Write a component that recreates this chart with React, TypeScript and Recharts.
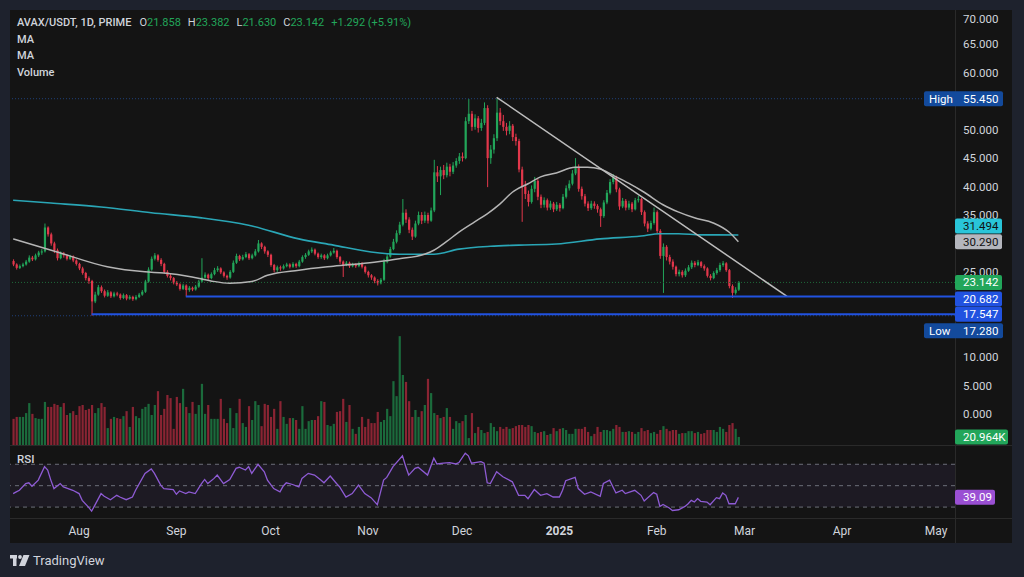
import React from "react";
import {
  ComposedChart,
  Bar,
  Line,
  XAxis,
  YAxis,
  ReferenceLine,
  ReferenceArea,
} from "recharts";

// day 0 = 1 Aug 2024, first candle is 11 Jul 2024
const FIRST_DAY = -21;
const FIRST_OPEN = 26.9;

const closes = [
  26.3, 25.7, 26.0, 26.3, 26.8, 27.5, 27.2, 27.9, 28.4, 28.6,
  32.8, 31.6, 30.0, 28.8, 27.4, 28.2, 27.9, 27.3, 27.7, 27.0,
  26.4, 25.6, 24.8, 23.9, 23.4, 19.8, 21.0, 22.3, 21.6, 20.8,
  21.4, 20.7, 21.2, 21.0, 20.4, 20.9, 20.3, 20.6, 20.2, 20.6,
  21.0, 21.5, 23.3, 25.4, 27.3, 27.9, 27.1, 26.4, 25.0, 24.3,
  23.9, 23.1, 22.8, 22.0, 22.6, 21.8, 22.2, 21.9, 22.4, 23.3,
  24.0, 24.5, 23.9, 24.6, 25.3, 25.6, 24.9, 24.3, 24.0, 25.0,
  26.6, 27.8, 27.2, 27.6, 28.1, 27.4, 27.9, 28.6, 30.0, 29.4,
  28.6, 28.0, 26.2, 25.3, 25.8, 25.6, 26.0, 26.3, 25.9, 26.4,
  26.0, 26.8, 27.6, 28.0, 28.6, 28.9, 28.2, 27.6, 27.9, 27.4,
  27.9, 28.4, 28.7, 27.6, 26.8, 26.2, 26.6, 26.0, 26.3, 26.0,
  26.5, 25.9, 25.0, 24.4, 24.0, 23.4, 23.0, 23.6, 26.8, 27.7,
  29.0, 30.3, 31.8, 33.3, 35.4, 34.2, 32.4, 31.2, 33.5, 35.0,
  34.0, 35.0, 34.0, 35.8, 42.5, 41.8, 42.9, 42.0, 43.5, 42.6,
  43.7, 44.5, 45.3, 45.0, 51.5, 52.8, 50.5, 52.0, 50.3, 51.2,
  53.8, 45.0, 46.5, 48.5, 53.0, 51.5, 50.5, 49.8, 50.7, 48.7,
  48.0, 43.0, 40.0, 38.7, 37.3, 39.6, 41.0, 38.2, 36.8, 37.6,
  36.3, 37.0, 36.0, 36.8, 36.2, 38.2, 39.7, 40.5, 42.3, 43.5,
  39.6, 38.3, 37.0, 36.2, 37.0, 36.6, 36.0, 34.8, 37.2, 38.9,
  40.8, 41.6, 39.5, 36.5, 37.5, 36.3, 37.0, 36.0, 37.6, 37.8,
  35.5, 33.5, 32.6, 33.6, 35.5, 32.2, 27.8, 29.4, 27.6, 26.8,
  25.9, 24.6, 25.0, 24.4, 25.2, 25.8, 26.6, 26.2, 26.7, 26.0,
  25.6, 24.3, 23.9, 24.8, 25.3, 26.2, 26.5, 25.3, 22.5, 21.3,
  21.858, 23.142,
];

const highs = [
  27.2, 26.5, 26.3, 26.6, 27.1, 27.9, 27.8, 28.2, 28.7, 29.0,
  33.5, 33.0, 31.9, 30.3, 29.1, 28.6, 28.5, 28.1, 28.0, 27.9,
  27.2, 26.6, 25.9, 25.0, 24.2, 23.6, 21.5, 22.7, 22.6, 21.9,
  21.8, 21.6, 21.5, 21.5, 21.2, 21.2, 21.1, 20.9, 20.8, 20.9,
  21.3, 21.8, 23.6, 25.8, 27.7, 28.3, 28.1, 27.4, 26.6, 25.3,
  24.6, 24.1, 23.4, 23.0, 22.9, 22.8, 22.5, 22.4, 22.7, 23.6,
  27.4, 24.9, 24.7, 24.9, 25.7, 26.0, 25.8, 25.1, 24.5, 25.3,
  27.0, 28.2, 28.0, 28.0, 28.5, 28.3, 28.2, 29.0, 30.6, 30.2,
  29.6, 28.8, 28.2, 26.4, 26.1, 26.1, 26.3, 26.6, 26.5, 26.7,
  26.6, 27.1, 27.9, 28.3, 28.9, 29.3, 29.1, 28.4, 28.2, 28.1,
  28.2, 28.7, 29.2, 28.9, 27.8, 27.0, 26.9, 26.8, 26.6, 26.5,
  26.8, 26.7, 26.1, 25.2, 24.6, 24.2, 23.7, 23.9, 27.3, 28.1,
  29.4, 30.8, 32.3, 33.8, 37.8, 36.0, 34.6, 32.8, 34.0, 35.6,
  35.5, 35.6, 35.4, 36.3, 44.7, 43.6, 43.5, 43.8, 44.2, 44.0,
  44.3, 45.0, 45.9, 46.0, 52.2, 55.4, 53.3, 52.7, 52.4, 51.9,
  54.8, 54.3, 47.3, 49.2, 55.45, 53.8, 52.6, 51.2, 51.5, 51.0,
  49.3, 48.4, 43.5, 41.0, 39.3, 40.2, 41.7, 41.3, 38.6, 38.1,
  37.9, 37.5, 37.3, 37.3, 37.1, 38.7, 40.2, 41.1, 42.9, 45.0,
  43.9, 40.0, 38.7, 37.4, 37.5, 37.4, 36.9, 36.3, 37.6, 39.4,
  41.3, 42.2, 41.9, 39.8, 38.0, 37.8, 37.5, 37.3, 38.0, 38.4,
  38.0, 35.8, 33.9, 34.0, 36.3, 35.8, 32.5, 30.0, 29.7, 28.0,
  27.2, 26.1, 25.4, 25.3, 25.6, 26.2, 27.0, 26.9, 27.1, 26.9,
  26.3, 25.8, 24.6, 25.1, 25.7, 26.6, 26.9, 26.7, 25.5, 22.8,
  22.3, 23.382,
];

const lows = [
  26.0, 25.4, 25.5, 25.8, 26.1, 26.6, 26.9, 27.0, 27.6, 28.0,
  28.4, 31.2, 29.6, 28.3, 27.0, 27.2, 27.5, 27.0, 27.1, 26.7,
  26.1, 25.3, 24.5, 23.5, 22.9, 17.28, 19.5, 20.8, 21.3, 20.5,
  20.6, 20.4, 20.5, 20.7, 20.1, 20.2, 20.0, 20.1, 19.9, 20.0,
  20.4, 20.8, 21.3, 23.1, 25.2, 27.0, 26.8, 26.0, 24.7, 24.0,
  23.5, 22.8, 22.5, 21.7, 21.8, 20.68, 21.5, 21.6, 21.7, 22.2,
  23.1, 23.8, 23.6, 23.7, 24.4, 25.0, 24.6, 24.0, 23.6, 23.8,
  24.8, 26.4, 26.9, 27.0, 27.4, 27.1, 27.2, 27.7, 28.4, 29.0,
  28.2, 27.6, 25.9, 24.9, 25.0, 25.2, 25.4, 25.8, 25.6, 25.7,
  25.7, 25.8, 26.6, 27.3, 27.8, 28.3, 27.9, 27.3, 27.3, 27.1,
  27.2, 27.7, 28.2, 27.3, 26.4, 24.1, 26.0, 25.7, 25.8, 25.7,
  25.8, 25.6, 24.7, 24.0, 23.6, 23.0, 22.6, 22.8, 23.4, 26.5,
  27.5, 28.8, 30.0, 31.5, 33.0, 33.6, 31.8, 30.6, 31.0, 33.2,
  33.4, 33.6, 33.5, 33.8, 35.5, 40.8, 38.5, 41.3, 41.6, 41.8,
  42.2, 43.3, 44.0, 44.4, 44.8, 51.0, 49.8, 50.0, 49.5, 49.8,
  50.8, 39.9, 44.0, 45.8, 48.0, 50.8, 49.8, 49.0, 49.2, 48.0,
  47.2, 42.5, 33.8, 37.8, 36.5, 37.0, 39.0, 37.6, 36.2, 36.3,
  35.8, 35.9, 35.5, 35.7, 35.6, 36.0, 37.9, 39.3, 40.2, 42.0,
  39.1, 37.7, 36.5, 35.7, 35.9, 36.1, 35.4, 32.9, 34.5, 36.9,
  38.6, 40.4, 39.0, 35.9, 36.2, 35.8, 35.9, 35.5, 35.8, 37.2,
  35.0, 33.0, 32.0, 32.3, 33.3, 31.8, 27.3, 21.3, 27.0, 26.3,
  25.4, 24.2, 24.2, 24.0, 24.1, 25.0, 25.5, 25.8, 26.0, 25.7,
  25.2, 24.0, 23.5, 23.7, 24.5, 25.0, 25.9, 25.0, 22.1, 20.4,
  21.0, 21.63,
];

// volume, thousands
const volumes = [
  68, 73, 73, 73, 83, 109, 81, 70, 68, 68,
  112, 99, 99, 107, 104, 99, 109, 78, 83, 88,
  78, 101, 104, 91, 94, 104, 83, 96, 109, 99,
  44, 68, 73, 70, 68, 75, 88, 47, 99, 75,
  70, 94, 99, 107, 78, 104, 140, 78, 94, 130,
  122, 42, 125, 109, 146, 99, 83, 112, 81, 104,
  159, 81, 104, 68, 68, 68, 120, 68, 57, 96,
  44, 83, 120, 57, 47, 101, 65, 114, 104, 49,
  107, 104, 73, 94, 42, 114, 73, 55, 70, 70,
  65, 42, 101, 42, 62, 65, 65, 75, 114, 112,
  52, 49, 55, 86, 88, 120, 60, 104, 42, 29,
  47, 73, 47, 68, 57, 57, 86, 60, 65, 94,
  75, 166, 127, 283, 182, 164, 114, 73, 91, 73,
  88, 104, 172, 135, 83, 78, 70, 73, 96, 73,
  42, 62, 57, 62, 78, 18, 83, 31, 47, 39,
  31, 34, 57, 47, 36, 47, 42, 47, 42,
  44, 49, 52, 52, 47, 52, 49, 34, 31, 34,
  36, 26, 29, 44, 36, 42, 44, 39, 29, 29,
  42, 42, 42, 47, 34, 23, 29, 47, 34, 39,
  39, 36, 42, 52, 47, 34, 34, 36, 34, 29,
  34, 44, 36, 39, 31, 34, 29, 39, 49, 42,
  36, 39, 39, 29, 31, 31, 36, 36, 31, 34,
  29, 31, 39, 39, 39, 34, 47, 42, 34, 52,
  57, 42, 20.964,
];

const maGrayDays = [-21, -7, 9, 21, 27, 36, 42, 48, 55, 60, 70, 81, 94, 102, 110, 113, 117, 121, 126, 130, 134, 138, 143, 147, 152, 158, 162, 166, 170, 175, 180, 186, 191, 196, 202, 207, 210];
const maGrayVals = [30.8, 28.5, 25.9, 25.0, 24.8, 24.1, 23.4, 23.0, 23.3, 24.4, 25.3, 26.0, 26.7, 27.3, 28.1, 28.8, 30.3, 32.0, 33.8, 35.2, 36.9, 39.0, 40.5, 41.7, 42.4, 43.4, 43.4, 43.1, 42.0, 40.6, 39.0, 36.8, 35.5, 34.5, 33.6, 32.0, 30.29];

const maTealDays = [-21, -9, 7, 23, 39, 54, 70, 81, 93, 102, 113, 121, 131, 140, 152, 166, 179, 185, 191, 198, 210];
const maTealVals = [37.6, 37.1, 36.4, 35.4, 34.5, 33.2, 30.8, 29.7, 28.5, 28.1, 28.1, 29.0, 29.5, 29.7, 29.9, 30.8, 31.3, 31.7, 31.7, 31.5, 31.494];

const rsiDays = [
  -21, -20, -19, -17, -16, -15, -13, -11, -10, -9, -8, -6, -5, -2, 0, 1, 3, 4, 5, 7,
  8, 10, 12, 13, 15, 17, 18, 21, 23, 24, 26, 27, 30, 31, 32, 34, 35, 37, 39, 40,
  41, 43, 44, 46, 48, 50, 51, 53, 54, 55, 57, 59, 60, 62, 64, 65, 66, 68, 70, 71,
  73, 75, 77, 78, 80, 82, 83, 85, 87, 89, 91, 93, 95, 97, 98, 100, 103, 104, 105, 107,
  108, 111, 113, 114, 116, 118, 120, 121, 123, 124, 125, 128, 129, 130, 131, 133, 135, 138, 140, 142,
  143, 145, 147, 149, 151, 153, 154, 155, 158, 159, 161, 163, 166, 167, 169, 171, 173, 174, 177, 179,
  180, 183, 184, 185, 186, 188, 189, 191, 193, 194, 195, 196, 197, 198, 200, 201, 203, 204, 205, 206,
  207, 209, 210,
];
const rsiVals = [
  42.6, 44.2, 45.7, 52, 52.7, 49.5, 55.2, 67.8, 64.6, 55.2, 47.3, 52, 48.9, 45.7, 42.6, 36.3, 30, 26.2, 31.6, 42.6,
  40.1, 36.9, 41, 39.4, 36.9, 39.4, 45.7, 61.5, 65.6, 61.5, 50.5, 47.3, 46.4, 42, 45.1, 42.6, 44.2, 42.6, 52, 55.8,
  52, 56.8, 59.9, 52, 55.8, 66.2, 67.2, 64.6, 67.8, 61.5, 70, 63, 55.2, 47.3, 44.2, 49.5, 52.7, 51.1, 48.9, 56.8,
  61.5, 59.9, 55.2, 52.7, 59, 52, 48.9, 39.4, 42.6, 50.5, 42.6, 38.8, 32.2, 55.2, 57.7, 67.8, 77.9, 68.4, 59.9, 66.2,
  67.2, 59.9, 75.7, 70.3, 71, 71.6, 70.3, 71.6, 80.4, 77.9, 71, 72.5, 71, 52.7, 52, 63, 58.3, 53.6, 41, 41,
  37.9, 46.4, 41, 42.6, 39.4, 39.4, 45.7, 54.6, 57.7, 47.3, 42, 44.2, 40.1, 52, 55.2, 43.2, 45.7, 42.6, 45.7, 41,
  35.7, 43.5, 42, 30.6, 32.5, 29.1, 26.8, 27.5, 30.6, 33.1, 36.3, 34.7, 37.9, 35.4, 34.7, 32.2, 38.8, 37.9, 43.2, 41,
  33.1, 33.1, 39.09,
];

const monthTicks = [0, 31, 61, 92, 122, 153, 184, 212, 243, 273];
const monthLabels = ["Aug", "Sep", "Oct", "Nov", "Dec", "2025", "Feb", "Mar", "Apr", "May"];
// price scale labels left visible by the value tags
const priceTicks = [0, 5, 10, 25, 35, 40, 45, 50, 60, 65, 70];

const X_DOMAIN = [-22, 279];
const PRICE_DOMAIN = [-5.45, 71.05];
const VOL_DOMAIN = [0, 1131];
const RSI_DOMAIN = [19.8, 88];

const FONT = "Roboto, 'Noto Sans', sans-serif";
const TXT = "#d1d4dc";
const UP = "#22a65a";
const DOWN = "#e2374b";
const VOL_UP = "#1b6b3c";
const VOL_DOWN = "#8a2433";
const BLUE = "#2152e0";

const grayMap = new Map(maGrayDays.map((d, i) => [d, maGrayVals[i]]));
const tealMap = new Map(maTealDays.map((d, i) => [d, maTealVals[i]]));
const rsiMap = new Map(rsiDays.map((d, i) => [d, rsiVals[i]]));

const rows = closes.map((c, i) => {
  const open = i === 0 ? FIRST_OPEN : closes[i - 1];
  const d = FIRST_DAY + i;
  return {
    d,
    open,
    close: c,
    high: highs[i],
    low: lows[i],
    range: [lows[i], highs[i]],
    vol: volumes[i],
    up: c >= open,
    maGray: grayMap.get(d),
    maTeal: tealMap.get(d),
    rsi: rsiMap.get(d),
  };
});

const Candle = (props: any) => {
  const { x, y, width, height, payload } = props;
  if (!payload) return null;
  const top = Math.min(y, y + height);
  const h = Math.abs(height);
  const ppu = h / (payload.high - payload.low || 1);
  const yO = top + (payload.high - payload.open) * ppu;
  const yC = top + (payload.high - payload.close) * ppu;
  const cx = x + width / 2;
  const color = payload.up ? UP : DOWN;
  return (
    <g>
      <line x1={cx} x2={cx} y1={top} y2={top + h} stroke={color} strokeWidth={1} />
      <rect x={cx - 1.1} y={Math.min(yO, yC)} width={2.2} height={Math.max(1, Math.abs(yO - yC))} fill={color} />
    </g>
  );
};

const VolBar = (props: any) => {
  const { x, y, width, height, payload } = props;
  if (!payload) return null;
  const cx = x + width / 2;
  return <rect x={cx - 1.1} y={Math.min(y, y + height)} width={2.2} height={Math.abs(height)} fill={payload.up ? VOL_UP : VOL_DOWN} />;
};

const PriceTick = (p: any) => (
  <text x={p.x} y={p.y} dy="0.35em" fill={TXT} fontSize={11.5} textAnchor="start">
    {Number(p.payload.value).toFixed(3)}
  </text>
);

const RsiTick = (p: any) => (
  <text x={p.x} y={p.y} dy="0.35em" fill={TXT} fontSize={11.5} textAnchor="start">
    {Number(p.payload.value).toFixed(2)}
  </text>
);

const TimeTick = (p: any) => {
  const idx = monthTicks.indexOf(p.payload.value);
  const label = monthLabels[idx];
  return (
    <text x={p.x} y={p.y} dy="0.71em" fill={TXT} fontSize={12} textAnchor="middle" fontWeight={label === "2025" ? 700 : 400}>
      {label}
    </text>
  );
};

const Tag = (props: any) => {
  const { viewBox, text, bg, fg = "#fff", dy = 0, name, w = 47 } = props;
  if (!viewBox) return null;
  const right = viewBox.x + viewBox.width;
  const cy = viewBox.y + dy;
  const left = name ? right - 31 : right;
  const width = name ? w + 32 : w;
  return (
    <g>
      <rect x={left} y={cy - 7.5} width={width} height={15} rx={2} fill={bg} />
      {name && (
        <text x={left + 5} y={cy} dy="0.35em" fill={fg} fontSize={11.5}>
          {name}
        </text>
      )}
      <text x={right + 8} y={cy} dy="0.35em" fill={fg} fontSize={11.5}>
        {text}
      </text>
    </g>
  );
};

const margin = { top: 0, right: 0, bottom: 0, left: 0 };

export default function App() {
  return (
    <div style={{ position: "absolute", left: 0, top: 0, width: 1024, height: 577, background: "#1e222d", fontFamily: FONT, overflow: "hidden" }}>
      <div style={{ position: "absolute", left: 10, top: 10, width: 1002, height: 533, background: "#141414" }} />
      <div style={{ position: "absolute", left: 10, top: 445, width: 1002, height: 1, background: "#2a2a2a" }} />
      <div style={{ position: "absolute", left: 10, top: 518, width: 1002, height: 1, background: "#2a2a2a" }} />
      <div style={{ position: "absolute", left: 955, top: 10, width: 1, height: 533, background: "#2a2a2a" }} />

      {/* volume + price scale */}
      <div style={{ position: "absolute", left: 10, top: 10 }}>
        <ComposedChart width={1002} height={435} data={rows} margin={margin}>
          <XAxis type="number" dataKey="d" domain={X_DOMAIN} allowDataOverflow hide />
          <YAxis
            yAxisId="p"
            orientation="right"
            width={57}
            domain={PRICE_DOMAIN}
            allowDataOverflow
            ticks={priceTicks}
            tick={PriceTick}
            axisLine={false}
            tickLine={false}
          />
          <YAxis yAxisId="v" hide domain={VOL_DOMAIN} allowDataOverflow />
          <Bar yAxisId="v" dataKey="vol" barSize={2} shape={VolBar} isAnimationActive={false} />
          <ReferenceLine yAxisId="v" y={20.964} stroke="none" label={<Tag text="20.964K" bg={UP} w={53} />} />
        </ComposedChart>
      </div>

      {/* candles, averages, drawings */}
      <div style={{ position: "absolute", left: 10, top: 10 }}>
        <ComposedChart width={1002} height={435} data={rows} margin={margin}>
          <XAxis type="number" dataKey="d" domain={X_DOMAIN} allowDataOverflow hide />
          <YAxis yAxisId="p" orientation="right" width={57} domain={PRICE_DOMAIN} allowDataOverflow tick={false} axisLine={false} tickLine={false} />
          <ReferenceLine yAxisId="p" y={55.45} stroke="#1f3f78" strokeDasharray="1 2" />
          <ReferenceLine yAxisId="p" y={23.142} stroke="#1f6a3a" strokeDasharray="1 2" />
          <ReferenceLine yAxisId="p" y={17.28} stroke="#1f3f78" strokeDasharray="1 2" />
          <Line yAxisId="p" dataKey="maTeal" type="monotone" stroke="#2aa6b6" strokeWidth={1.6} dot={false} connectNulls isAnimationActive={false} />
          <Line yAxisId="p" dataKey="maGray" type="monotone" stroke="#b5b5b5" strokeWidth={1.5} dot={false} connectNulls isAnimationActive={false} />
          <Bar yAxisId="p" dataKey="range" barSize={2} shape={Candle} isAnimationActive={false} />
          <ReferenceLine
            yAxisId="p"
            segment={[{ x: 133, y: 55.7 }, { x: 225.5, y: 20.682 }]}
            stroke="#bdbdbd"
            strokeWidth={1.5}
            ifOverflow="visible"
          />
          <ReferenceLine
            yAxisId="p"
            segment={[{ x: 34, y: 20.682 }, { x: 279, y: 20.682 }]}
            stroke={BLUE}
            strokeWidth={2}
            ifOverflow="visible"
            label={<Tag text="20.682" bg={BLUE} dy={2.5} />}
          />
          <ReferenceLine
            yAxisId="p"
            segment={[{ x: 4, y: 17.547 }, { x: 279, y: 17.547 }]}
            stroke={BLUE}
            strokeWidth={2}
            ifOverflow="visible"
            label={<Tag text="17.547" bg={BLUE} />}
          />
          <ReferenceLine yAxisId="p" y={55.45} stroke="none" label={<Tag name="High" text="55.450" bg="#134a9c" />} />
          <ReferenceLine yAxisId="p" y={31.494} stroke="none" label={<Tag text="31.494" bg="#29c5d9" fg="#111" dy={-9} />} />
          <ReferenceLine yAxisId="p" y={30.29} stroke="none" label={<Tag text="30.290" bg="#b4b6bd" fg="#111" />} />
          <ReferenceLine yAxisId="p" y={23.142} stroke="none" label={<Tag text="23.142" bg={UP} />} />
          <ReferenceLine yAxisId="p" y={17.28} stroke="none" label={<Tag name="Low" text="17.280" bg="#134a9c" dy={15} />} />
        </ComposedChart>
      </div>

      {/* RSI + time scale */}
      <div style={{ position: "absolute", left: 10, top: 445 }}>
        <ComposedChart width={1002} height={98} data={rows} margin={margin}>
          <XAxis
            type="number"
            dataKey="d"
            domain={X_DOMAIN}
            allowDataOverflow
            ticks={monthTicks}
            tick={TimeTick}
            height={25}
            axisLine={false}
            tickLine={false}
          />
          <YAxis orientation="right" width={57} domain={RSI_DOMAIN} allowDataOverflow ticks={[80]} tick={RsiTick} axisLine={false} tickLine={false} />
          <ReferenceArea y1={30} y2={70} fill="#7e57c2" fillOpacity={0.09} stroke="none" />
          <ReferenceLine y={70} stroke="#6b6e78" strokeDasharray="4 4" />
          <ReferenceLine y={50} stroke="#6b6e78" strokeDasharray="4 4" />
          <ReferenceLine y={30} stroke="#6b6e78" strokeDasharray="4 4" />
          <Line dataKey="rsi" type="linear" stroke="#8e5bd4" strokeWidth={1.3} dot={false} connectNulls isAnimationActive={false} />
          <ReferenceLine y={39.09} stroke="none" label={<Tag text="39.09" bg="#9a4fd3" w={40} />} />
        </ComposedChart>
      </div>

      {/* legend text */}
      <div style={{ position: "absolute", left: 17, top: 15, fontSize: 11, color: TXT, lineHeight: "16.5px" }}>
        <div>
          <span style={{ fontWeight: 500 }}>AVAX/USDT, 1D, PRIME</span>
          <span style={{ marginLeft: 8 }}>O</span>
          <span style={{ color: UP }}>21.858</span>
          <span style={{ marginLeft: 7 }}>H</span>
          <span style={{ color: UP }}>23.382</span>
          <span style={{ marginLeft: 7 }}>L</span>
          <span style={{ color: UP }}>21.630</span>
          <span style={{ marginLeft: 7 }}>C</span>
          <span style={{ color: UP }}>23.142</span>
          <span style={{ color: UP, marginLeft: 7 }}>+1.292 (+5.91%)</span>
        </div>
        <div style={{ fontWeight: 500 }}>MA</div>
        <div style={{ fontWeight: 500 }}>MA</div>
        <div style={{ fontWeight: 500 }}>Volume</div>
      </div>
      <div style={{ position: "absolute", left: 17, top: 452, fontSize: 11.5, color: TXT, fontWeight: 500 }}>RSI</div>

      {/* footer */}
      <div style={{ position: "absolute", left: 10, top: 553, display: "flex", alignItems: "center", color: TXT }}>
        <svg width={20} height={12} viewBox="0 0 20 12">
          <rect x={0} y={0} width={7} height={3.5} fill={TXT} />
          <rect x={3} y={0} width={3.5} height={11} fill={TXT} />
          <circle cx={10} cy={2} r={1.9} fill={TXT} />
          <polygon points="13.5,0 19.5,0 15,11 9,11" fill={TXT} />
        </svg>
        <span style={{ marginLeft: 3, fontSize: 13 }}>TradingView</span>
      </div>
    </div>
  );
}
